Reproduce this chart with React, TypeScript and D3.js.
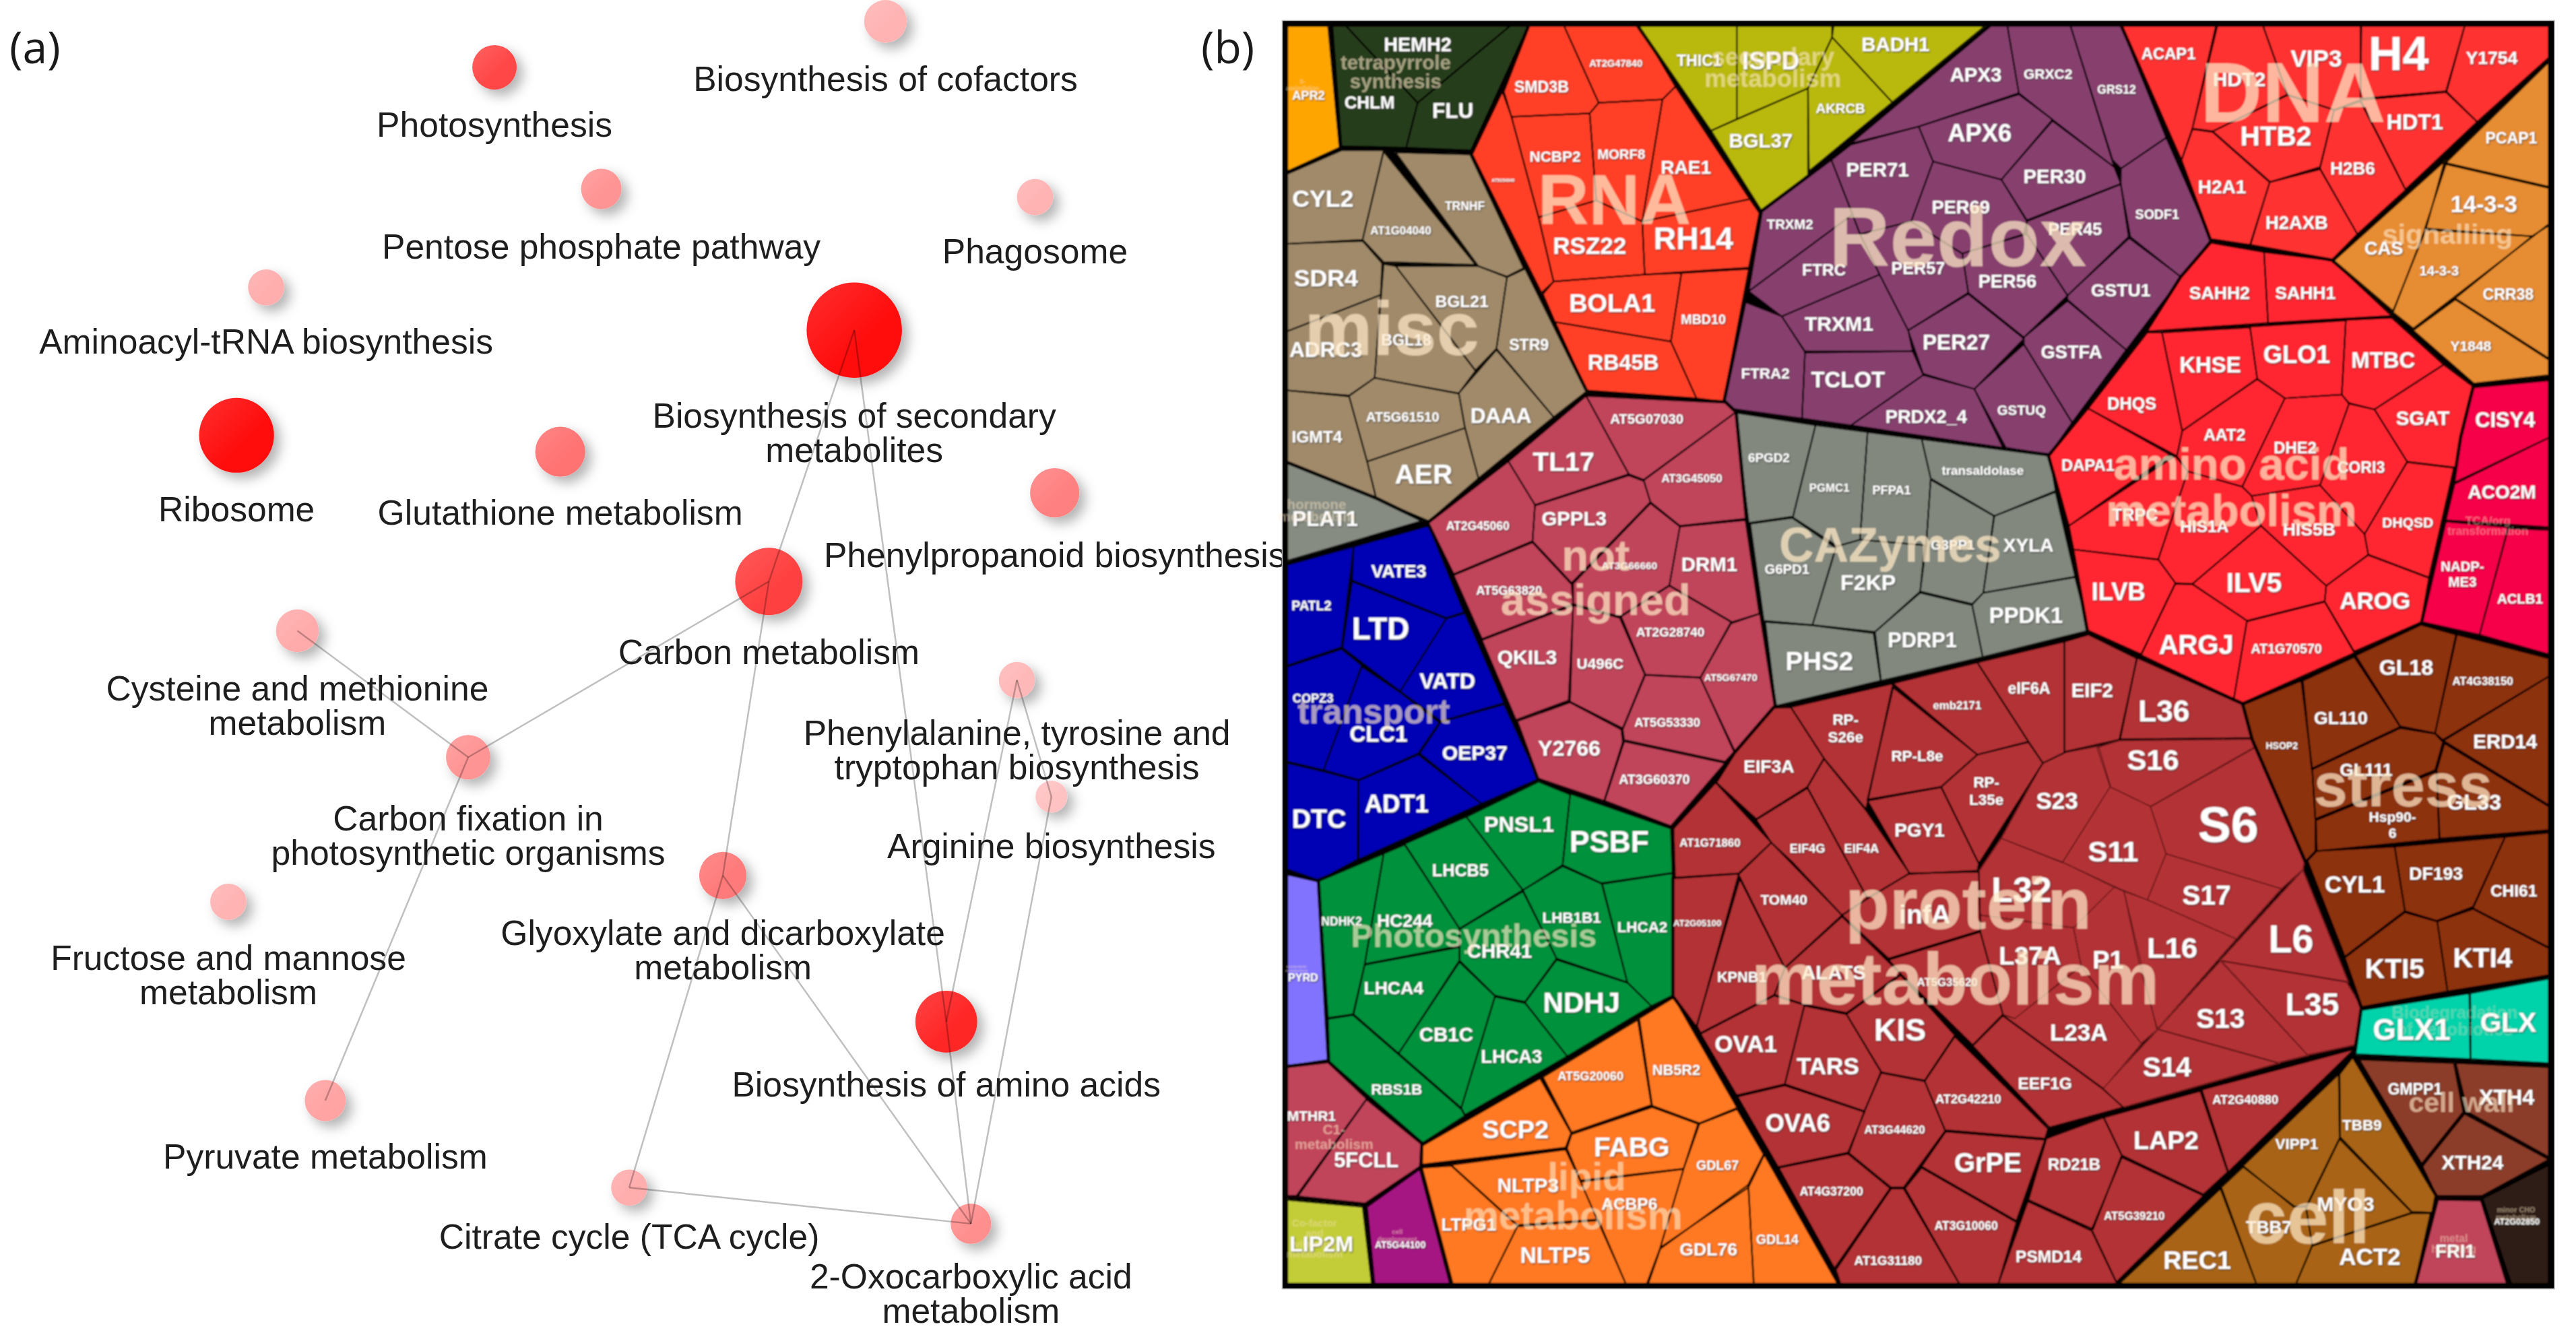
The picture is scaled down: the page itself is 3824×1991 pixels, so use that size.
import * as d3 from "d3";

// ---------- panel (a): enrichment network ----------
const nodeNames = [
  "Biosynthesis of cofactors", "Photosynthesis", "Pentose phosphate pathway", "Phagosome",
  "Aminoacyl-tRNA biosynthesis", "Biosynthesis of secondary\nmetabolites", "Ribosome", "Glutathione metabolism",
  "Phenylpropanoid biosynthesis", "Carbon metabolism", "Cysteine and methionine\nmetabolism", "Carbon fixation in\nphotosynthetic organisms",
  "Phenylalanine, tyrosine and\ntryptophan biosynthesis", "Arginine biosynthesis", "Glyoxylate and dicarboxylate\nmetabolism", "Fructose and mannose\nmetabolism",
  "Biosynthesis of amino acids", "Pyruvate metabolism", "Citrate cycle (TCA cycle)", "2-Oxocarboxylic acid\nmetabolism",
];
const nodeX = [539, 301, 366, 630, 162, 520, 144, 341, 642, 468, 181, 285, 619, 640, 440, 139, 576, 198, 383, 591];
const nodeY = [13, 41, 115, 120, 175, 201, 265, 275, 300, 354, 384, 461, 414, 485, 533, 549, 622, 670, 723, 745];
const nodeRadius = [13, 13.5, 12.3, 11, 11, 29, 22.8, 15.2, 15, 20.5, 13, 13.5, 11, 9.7, 14.4, 11, 18.8, 12.5, 11, 12.3];
const nodeEnrichment = [0.3, 0.72, 0.42, 0.3, 0.32, 0.97, 0.94, 0.55, 0.5, 0.75, 0.33, 0.42, 0.28, 0.24, 0.52, 0.3, 0.85, 0.36, 0.32, 0.44];
const nodeLabelY = [48, 76, 150, 153, 208, 253, 310, 312, 338, 397, 419, 498, 446, 515, 568, 583, 660, 704, 753, 777];
const nodeEdges = [
  [5, 9], [5, 16], [9, 11], [9, 14], [14, 18], [14, 19], [18, 19], [16, 19],
  [12, 16], [12, 13], [13, 19], [10, 11], [11, 17],
];

// ---------- panel (b): voronoi treemap, cells as [name, value, tile, labelX, labelY, outline] ----------
type Cell = [string, number, number, number, number, number[]];

const sulfurCells: Cell[] = [["APR2", 2.6, 0, 95, 295, [25, 45, 160, 45, 198, 480, 25, 565]]];
const tetrapyrroleCells: Cell[] = [
  ["HEMH2", 4.1, 0, 458, 110, [220, 45, 765, 45, 458, 320]],
  ["CHLM", 3.7, 0, 298, 318, [175, 45, 220, 45, 458, 320, 420, 480, 205, 475]],
  ["FLU", 4.5, 0, 575, 348, [765, 45, 825, 45, 635, 490, 420, 480, 458, 320]],
];
const rnaCells: Cell[] = [
  ["AT5G54940", 0.9, 0, 742, 598, [740, 280, 770, 370, 860, 730, 910, 960, 870, 1000, 640, 505]],
  ["SMD3B", 3.3, 0, 870, 262, [745, 280, 830, 45, 945, 45, 1060, 320, 1030, 358, 770, 370]],
  ["AT2G47840", 2.1, 0, 1117, 178, [945, 45, 1195, 45, 1315, 262, 1272, 308, 1060, 320]],
  ["NCBP2", 3.2, 0, 915, 512, [770, 370, 1030, 358, 1052, 670, 860, 730]],
  ["MORF8", 2.9, 0, 1135, 505, [1030, 358, 1060, 320, 1272, 308, 1205, 745, 1052, 670]],
  ["RAE1", 4, 0, 1350, 552, [1272, 308, 1315, 262, 1562, 665, 1205, 745]],
  ["RSZ22", 5, 0, 1030, 830, [860, 730, 1052, 670, 1205, 745, 1213, 935, 910, 960]],
  ["RH14", 6.6, 0, 1375, 805, [1205, 745, 1562, 665, 1594, 715, 1559, 910, 1213, 935]],
  ["BOLA1", 5.4, 0, 1105, 1037, [875, 1005, 910, 960, 1213, 935, 1335, 930, 1300, 1175, 915, 1105]],
  ["MBD10", 2.8, 0, 1408, 1095, [1335, 930, 1559, 915, 1475, 1390, 1385, 1378, 1300, 1175]],
  ["RB45B", 4.6, 0, 1142, 1250, [915, 1105, 1300, 1175, 1385, 1378, 1020, 1350]],
];
const miscCells: Cell[] = [
  ["CYL2", 5.1, 0, 143, 663, [25, 575, 205, 490, 345, 490, 275, 810, 25, 825]],
  ["AT1G04040", 2.4, 0, 402, 778, [345, 495, 650, 900, 345, 890, 275, 810]],
  ["TRNHF", 2.5, 0, 615, 690, [385, 498, 632, 505, 810, 912, 755, 942, 660, 905]],
  ["SDR4", 5.1, 0, 153, 948, [25, 825, 275, 815, 340, 895, 335, 1008, 25, 1138]],
  ["ADRC3", 4.5, 0, 153, 1203, [25, 1138, 335, 1008, 315, 1305, 230, 1368, 25, 1350]],
  ["BGL18", 3.3, 0, 420, 1170, [345, 898, 385, 905, 650, 1280, 595, 1360, 315, 1305]],
  ["BGL21", 3.5, 0, 605, 1032, [385, 905, 660, 905, 755, 945, 720, 1200, 650, 1278]],
  ["STR9", 3.3, 0, 828, 1187, [755, 945, 815, 915, 1018, 1355, 910, 1445, 720, 1200]],
  ["DAAA", 4.5, 0, 735, 1440, [720, 1205, 910, 1445, 660, 1665, 615, 1480, 595, 1360]],
  ["AT5G61510", 2.9, 0, 408, 1445, [230, 1370, 315, 1305, 595, 1362, 615, 1485, 290, 1605]],
  ["IGMT4", 3.5, 0, 123, 1515, [25, 1350, 230, 1372, 290, 1605, 320, 1735, 25, 1610]],
  ["AER", 5.8, 3, 478, 130, [290, 85, 615, -35, 660, 145, 495, 298, 320, 218]],
];
const hormoneCells: Cell[] = [["PLAT1", 4.5, 3, 150, 290, [25, 92, 320, 220, 470, 298, 25, 440]]];
const secondaryCells: Cell[] = [
  ["THIC1", 3.3, 1, 50, 170, [-150, 45, 175, 45, 175, 378, 90, 420]],
  ["ISPD", 5.2, 1, 288, 170, [175, 45, 492, 45, 492, 85, 412, 268, 175, 378]],
  ["BADH1", 4.2, 1, 703, 110, [497, 45, 1000, 45, 692, 318, 492, 85]],
  ["AKRCB", 2.9, 1, 520, 340, [492, 85, 692, 318, 415, 565, 412, 268]],
  ["BGL37", 4.2, 1, 255, 455, [90, 420, 412, 268, 412, 578, 260, 710]],
];
const redoxCells: Cell[] = [
  ["APX3", 4.2, 1, 970, 218, [1020, 45, 1075, 45, 1113, 285, 780, 405, 555, 465]],
  ["GRXC2", 3, 1, 1210, 217, [1075, 45, 1285, 45, 1430, 550, 1225, 380, 1113, 285]],
  ["GRS12", 2.5, 1, 1438, 272, [1285, 45, 1453, 45, 1603, 445, 1453, 555, 1425, 525]],
  ["APX6", 5.2, 1, 983, 428, [780, 405, 1113, 290, 1225, 380, 1055, 595, 828, 530]],
  ["PER71", 4.2, 1, 643, 558, [490, 525, 555, 470, 780, 405, 828, 530, 755, 745, 585, 790]],
  ["TRXM2", 2.9, 1, 352, 755, [260, 710, 490, 525, 560, 720, 215, 995]],
  ["FTRC", 3.5, 1, 465, 918, [215, 995, 560, 720, 585, 790, 650, 935, 325, 1085]],
  ["PER69", 3.9, 1, 920, 693, [828, 530, 1055, 595, 1140, 745, 1130, 790, 925, 860, 755, 745]],
  ["PER30", 4.2, 1, 1232, 583, [1225, 385, 1430, 550, 1452, 610, 1140, 740, 1055, 595]],
  ["PER45", 3.6, 1, 1300, 772, [1140, 745, 1452, 612, 1478, 800, 1275, 1010, 1140, 790]],
  ["PER57", 3.6, 1, 778, 912, [585, 790, 755, 745, 925, 860, 945, 1000, 745, 1135, 650, 935]],
  ["PER56", 3.9, 1, 1075, 960, [925, 860, 1140, 790, 1275, 1010, 1130, 1160, 945, 1000]],
  ["SODF1", 2.8, 1, 1573, 720, [1453, 555, 1603, 445, 1752, 810, 1654, 945, 1484, 800, 1452, 610]],
  ["GSTU1", 3.8, 1, 1452, 992, [1275, 1010, 1480, 805, 1654, 945, 1470, 1205, 1275, 1025]],
  ["GSTFA", 3.9, 1, 1288, 1212, [1275, 1030, 1470, 1205, 1290, 1465, 1130, 1185, 1130, 1160]],
  ["GSTUQ", 2.9, 1, 1122, 1420, [965, 1345, 1130, 1185, 1290, 1465, 1215, 1580, 1070, 1555]],
  ["TRXM1", 4.3, 1, 515, 1112, [325, 1085, 650, 935, 745, 1135, 760, 1210, 400, 1210]],
  ["PER27", 4.5, 1, 905, 1178, [745, 1135, 945, 1005, 1130, 1165, 965, 1345, 795, 1290]],
  ["FTRA2", 3.2, 1, 270, 1290, [205, 1035, 325, 1085, 402, 1210, 392, 1450, 155, 1415, 135, 1395]],
  ["TCLOT", 4.7, 1, 545, 1310, [402, 1215, 760, 1210, 795, 1295, 555, 1475, 392, 1450]],
  ["PRDX2_4", 3.9, 1, 805, 1443, [555, 1475, 795, 1295, 965, 1345, 1060, 1555]],
];
const cazymeCells: Cell[] = [
  ["6PGD2", 2.7, 4, 282, 72, [170, -90, 437, -45, 362, 282, 215, 305]],
  ["PGMC1", 2.4, 4, 483, 180, [437, -45, 610, -20, 585, 365, 510, 388, 362, 285]],
  ["PFPA1", 2.6, 4, 690, 188, [610, -20, 790, 5, 820, 145, 805, 385, 585, 365]],
  ["transaldolase", 2.7, 4, 993, 117, [790, 5, 1215, 65, 1235, 190, 1032, 280, 820, 145]],
  ["XYLA", 4, 4, 1145, 385, [1032, 280, 1235, 195, 1300, 497, 995, 555]],
  ["G3PP1", 2.9, 4, 893, 383, [820, 150, 1030, 280, 995, 555, 958, 595, 785, 550, 805, 385]],
  ["G6PD1", 2.9, 4, 342, 470, [220, 308, 360, 287, 505, 395, 427, 670, 265, 655]],
  ["F2KP", 4.6, 4, 612, 518, [505, 390, 585, 365, 800, 385, 785, 550, 635, 695, 427, 670]],
  ["PDRP1", 4.4, 4, 792, 725, [635, 695, 785, 555, 958, 600, 993, 785, 655, 870]],
  ["PPDK1", 4.7, 4, 1137, 635, [958, 598, 995, 555, 1300, 500, 1345, 690, 993, 785]],
  ["PHS2", 5.5, 4, 450, 800, [270, 660, 427, 672, 630, 700, 653, 870, 305, 960]],
];
const aminoAcidCells: Cell[] = [
  ["SAHH2", 3.8, 2, 422, 1002, [395, 822, 565, 855, 578, 1108, 190, 1138, 300, 945]],
  ["SAHH1", 3.8, 2, 698, 1000, [565, 855, 785, 885, 975, 1083, 578, 1108]],
  ["DHQS", 3.6, 2, 140, 1397, [190, 1143, 237, 1143, 302, 1495, 285, 1585, 0, 1415]],
  ["KHSE", 4.7, 2, 392, 1258, [237, 1143, 520, 1125, 543, 1308, 302, 1495]],
  ["GLO1", 5.2, 2, 670, 1222, [520, 1122, 828, 1100, 815, 1365, 632, 1378, 543, 1308]],
  ["MTBC", 4.7, 2, 948, 1240, [828, 1098, 975, 1090, 1142, 1258, 920, 1418, 838, 1395, 815, 1365]],
  ["AAT2", 3.5, 2, 438, 1508, [302, 1495, 543, 1310, 632, 1378, 495, 1695, 320, 1640, 285, 1585]],
  ["DHE2", 3.4, 2, 665, 1555, [632, 1378, 815, 1365, 838, 1398, 745, 1690, 525, 1728, 495, 1695]],
  ["CORI3", 3.3, 2, 877, 1625, [838, 1398, 920, 1418, 1025, 1605, 888, 1865, 745, 1690]],
  ["SGAT", 4.2, 2, 1075, 1448, [920, 1418, 1142, 1258, 1235, 1335, 1195, 1628, 1025, 1605]],
  ["DHQSD", 3, 5, 1027, 303, [1025, 88, 1175, 108, 1095, 500, 900, 418, 888, 345]],
  ["DAPA1", 3.4, 4, 1343, 97, [1344, -105, 1615, 60, 1280, 315, 1215, 65]],
  ["TRPC", 3.6, 5, 150, 275, [-62, 315, 280, 65, 320, 120, 225, 435, -47, 400]],
  ["HIS1A", 3.5, 5, 373, 318, [320, 120, 495, 175, 525, 208, 555, 315, 335, 523, 280, 520, 225, 435]],
  ["HIS5B", 3.8, 5, 710, 328, [525, 208, 745, 170, 888, 345, 900, 418, 765, 530, 555, 315]],
  ["ILVB", 5.2, 5, 97, 552, [-47, 400, 225, 437, 280, 520, 170, 775, 0, 690]],
  ["ILV5", 5.8, 5, 533, 518, [335, 523, 555, 315, 765, 530, 760, 585, 510, 655]],
  ["AROG", 5, 5, 922, 583, [765, 530, 900, 420, 1095, 502, 1070, 660, 855, 765, 760, 585]],
  ["ARGJ", 5.7, 5, 347, 740, [280, 523, 335, 525, 510, 655, 468, 935, 170, 778]],
  ["AT1G70570", 2.8, 5, 637, 755, [510, 658, 760, 588, 855, 770, 495, 950, 468, 935]],
];
const tcaCells: Cell[] = [
  ["CISY4", 4.4, 5, 1340, -65, [1240, -180, 1480, -205, 1480, 0, 1178, 160, 1200, 0]],
  ["ACO2M", 4, 5, 1330, 195, [1178, 165, 1480, 0, 1480, 320, 1150, 295]],
  ["NADP-\nME3", 2.9, 5, 1203, 488, [1150, 300, 1350, 320, 1258, 705, 1075, 660]],
  ["ACLB1", 2.9, 5, 1388, 577, [1350, 325, 1480, 330, 1480, 775, 1258, 705]],
];
const signallingCells: Cell[] = [
  ["PCAP1", 3.3, 2, 1360, 447, [1480, 175, 1480, 620, 1150, 535]],
  ["14-3-3", 4.9, 2, 1272, 683, [1150, 540, 1480, 625, 1480, 755, 1430, 798, 1082, 770]],
  ["CAS", 3.9, 2, 950, 840, [1145, 530, 1085, 775, 980, 1065, 790, 885]],
  ["14-3-3", 2.9, 2, 1128, 922, [1082, 775, 1430, 798, 1045, 1128, 980, 1070]],
  ["CRR38", 3.3, 2, 1350, 1007, [1430, 795, 1480, 760, 1480, 1235, 1180, 1020]],
  ["Y1848", 3, 2, 1230, 1190, [1180, 1025, 1480, 1240, 1480, 1295, 1240, 1325, 1045, 1135]],
];
const dnaCells: Cell[] = [
  ["ACAP1", 3.4, 2, 258, 143, [110, 45, 410, 45, 335, 410, 300, 525]],
  ["HDT2", 4.3, 2, 485, 235, [415, 45, 562, 45, 640, 290, 400, 422, 335, 412]],
  ["VIP3", 5, 2, 733, 160, [562, 45, 875, 45, 875, 310, 790, 345, 640, 290]],
  ["H4", 10, 2, 998, 145, [878, 45, 1210, 45, 1150, 278, 875, 305]],
  ["Y1754", 3.8, 2, 1297, 160, [1210, 45, 1480, 45, 1480, 158, 1250, 388, 1152, 280]],
  ["HDT1", 4.6, 2, 1050, 388, [875, 310, 1150, 282, 1250, 388, 1020, 630]],
  ["HTB2", 5.8, 2, 603, 440, [400, 422, 640, 293, 790, 345, 745, 550, 585, 603]],
  ["H2B6", 3.7, 2, 850, 555, [790, 348, 875, 315, 1020, 632, 865, 790, 745, 555]],
  ["H2A1", 4, 2, 430, 620, [300, 525, 335, 415, 400, 425, 583, 605, 520, 828, 395, 808]],
  ["H2AXB", 3.9, 2, 670, 748, [583, 605, 745, 558, 865, 790, 785, 880, 522, 828]],
];
const transportCells: Cell[] = [
  ["PATL2", 2.8, 3, 105, 600, [25, 455, 245, 390, 205, 750, 25, 815]],
  ["VATE3", 3.8, 3, 395, 478, [245, 390, 495, 315, 612, 625, 553, 645, 240, 510]],
  ["LTD", 6.5, 3, 335, 685, [240, 515, 553, 648, 400, 908, 208, 752]],
  ["VATD", 4.6, 3, 557, 872, [553, 648, 615, 628, 745, 950, 535, 1015, 400, 908]],
  ["COPZ3", 2.6, 3, 110, 933, [25, 820, 205, 757, 272, 815, 145, 1190, 25, 1160]],
  ["CLC1", 4.7, 3, 328, 1060, [272, 820, 400, 912, 530, 1020, 460, 1130, 262, 1225, 145, 1190]],
  ["OEP37", 4.3, 3, 648, 1127, [535, 1018, 745, 955, 860, 1222, 670, 1310, 465, 1130]],
  ["DTC", 5.6, 3, 130, 1365, [25, 1165, 145, 1195, 260, 1228, 258, 1510, 130, 1585, 25, 1545]],
  ["ADT1", 5.2, 3, 388, 1310, [262, 1228, 460, 1135, 670, 1310, 262, 1510]],
];
const notAssignedCells: Cell[] = [
  ["AT5G07030", 2.9, 3, 1220, -68, [1018, -150, 1480, -125, 1514, -90, 1210, 150, 1160, 130]],
  ["TL17", 5.6, 3, 943, 85, [1018, -150, 1160, 130, 848, 240, 760, 85]],
  ["AT2G45060", 2.5, 3, 658, 315, [760, 85, 848, 240, 840, 370, 578, 488, 495, 305]],
  ["GPPL3", 4.2, 3, 978, 288, [848, 243, 1160, 135, 1210, 155, 1232, 230, 970, 520, 840, 370]],
  ["AT3G45050", 2.4, 3, 1370, 145, [1210, 152, 1514, -90, 1548, 290, 1330, 315, 1232, 230]],
  ["AT5G63820", 2.6, 3, 762, 547, [578, 492, 840, 375, 970, 525, 975, 595, 672, 720]],
  ["AT3G66660", 2.2, 3, 1162, 458, [975, 522, 1232, 235, 1330, 318, 1295, 528, 1130, 640, 975, 595]],
  ["DRM1", 4.2, 3, 1428, 452, [1330, 318, 1548, 295, 1594, 630, 1504, 660, 1295, 528]],
  ["AT2G28740", 2.7, 3, 1298, 697, [1295, 530, 1500, 660, 1398, 858, 1215, 848, 1135, 640]],
  ["QKIL3", 4.3, 3, 822, 785, [672, 725, 975, 600, 960, 940, 785, 1010]],
  ["U496C", 3.2, 3, 1065, 810, [975, 600, 1130, 645, 1213, 848, 1140, 1040, 965, 945]],
  ["AT5G67470", 2.1, 3, 1499, 858, [1500, 665, 1596, 630, 1644, 960, 1514, 1125, 1398, 860]],
  ["AT5G53330", 2.6, 3, 1288, 1020, [1215, 850, 1398, 860, 1510, 1125, 1480, 1160, 1145, 1082, 1140, 1045]],
  ["Y2766", 4.6, 3, 962, 1113, [790, 1015, 965, 948, 1135, 1045, 1140, 1090, 1078, 1300, 860, 1220]],
  ["AT3G60370", 2.8, 3, 1245, 1222, [1145, 1088, 1480, 1165, 1300, 1390, 1080, 1300]],
];
const photosynthesisCells: Cell[] = [
  ["PSBF", 6.3, 3, 1095, 1447, [965, 1275, 1300, 1400, 1305, 1558, 1070, 1595, 940, 1530]],
  ["PNSL1", 4.6, 3, 795, 1385, [620, 1358, 860, 1232, 965, 1278, 940, 1530, 808, 1620]],
  ["LHCB5", 3.6, 6, 600, 28, [415, -65, 620, -162, 808, 100, 597, 238]],
  ["HC244", 3.8, 6, 415, 210, [345, -30, 415, -62, 597, 238, 597, 300, 282, 365]],
  ["NDHK2", 2.5, 6, 205, 212, [130, 68, 345, -30, 282, 365, 243, 545, 160, 558]],
  ["LHCA4", 3.8, 6, 378, 450, [282, 368, 597, 305, 597, 352, 395, 685, 245, 545]],
  ["CHR41", 4.2, 6, 730, 317, [597, 240, 808, 105, 920, 345, 815, 500, 715, 478, 597, 352]],
  ["LHB1B1", 3.2, 6, 970, 198, [808, 100, 940, 15, 1070, 78, 1155, 430, 920, 345]],
  ["LHCA2", 3.2, 6, 1205, 233, [1072, 78, 1305, 40, 1310, 475, 1235, 515, 1155, 430]],
  ["NDHJ", 6, 6, 1003, 503, [815, 503, 920, 350, 1155, 432, 1235, 515, 955, 695]],
  ["CB1C", 4.2, 6, 553, 617, [395, 685, 597, 358, 715, 480, 603, 880]],
  ["LHCA3", 3.9, 6, 770, 697, [715, 482, 815, 505, 955, 695, 860, 755, 615, 905, 603, 880]],
  ["RBS1B", 3.2, 6, 388, 813, [160, 562, 243, 548, 395, 690, 603, 885, 615, 908, 475, 1005, 165, 715]],
];
const nucleotideCells: Cell[] = [["PYRD", 2.3, 6, 77, 412, [25, 45, 125, 70, 158, 708, 25, 730]]];
const c1Cells: Cell[] = [
  ["MTHR1", 3, 6, 105, 908, [25, 735, 160, 718, 288, 848, 55, 1195, 25, 1195]],
  ["5FCLL", 4.4, 6, 287, 1067, [288, 850, 470, 1010, 465, 1090, 283, 1222, 60, 1197]],
];
const cofactorCells: Cell[] = [["LIP2M", 4.6, 6, 138, 1368, [25, 1210, 275, 1235, 305, 1510, 25, 1510]]];
const developmentCells: Cell[] = [["AT5G44100", 2, 6, 400, 1370, [290, 1235, 465, 1100, 565, 1510, 315, 1510]]];
const lipidCells: Cell[] = [
  ["SCP2", 5.4, 6, 783, 958, [475, 1015, 865, 775, 968, 970, 950, 1022, 473, 1083]],
  ["AT5G20060", 2.6, 6, 1033, 768, [875, 770, 1190, 565, 1235, 870, 970, 968]],
  ["NB5R2", 3.1, 6, 1318, 745, [1195, 560, 1310, 485, 1520, 880, 1395, 935, 1238, 872]],
  ["FABG", 5.8, 6, 1170, 1020, [955, 1025, 970, 975, 1238, 878, 1390, 938, 1342, 1098, 1000, 1140]],
  ["GDL67", 2.8, 6, 1455, 1085, [1395, 938, 1520, 885, 1610, 1050, 1558, 1165, 1265, 1380, 1342, 1100]],
  ["ACBP6", 3.5, 6, 1162, 1225, [1000, 1145, 1342, 1100, 1265, 1380, 1220, 1510, 1150, 1510, 1055, 1280]],
  ["NLTP3", 4.2, 6, 825, 1157, [570, 1085, 950, 1030, 1000, 1145, 1055, 1280, 790, 1300]],
  ["LTPG1", 3.7, 6, 628, 1298, [473, 1095, 570, 1088, 790, 1303, 695, 1510, 575, 1510]],
  ["NLTP5", 4.8, 6, 915, 1408, [790, 1305, 1060, 1283, 1150, 1510, 695, 1510]],
  ["GDL76", 3.8, 6, 1425, 1388, [1265, 1385, 1558, 1155, 1575, 1510, 1225, 1510]],
  ["GDL14", 2.8, 7, 310, 1352, [213, 1155, 265, 1045, 510, 1510, 232, 1510]],
];
const proteinCells: Cell[] = [
  ["S23", 5, 4, 1240, 1300, [1193, 1165, 1265, 1128, 1378, 1105, 1418, 1248, 1258, 1522, 1055, 1435]],
  ["S11", 6.2, 5, 80, 1480, [70, 1250, 200, 1320, 250, 1490, 190, 1655, 100, 1615, -83, 1520]],
  ["S16", 6.2, 5, 208, 1152, [28, 1110, 100, 1085, 530, 1080, 538, 1105, 200, 1320, 70, 1250]],
  ["S6", 10.5, 5, 450, 1387, [200, 1322, 540, 1108, 695, 1510, 690, 1545, 620, 1615, 250, 1490]],
  ["S17", 5.8, 8, 380, 117, [250, -30, 620, 95, 475, 275, 190, 135]],
  ["L16", 6.2, 8, 270, 307, [115, 105, 190, 135, 475, 275, 222, 597, 165, 370]],
  ["L6", 8.2, 8, 652, 275, [690, 30, 835, 428, 425, 352]],
  ["S13", 5.8, 8, 425, 560, [425, 355, 705, 692, 610, 718, 225, 598]],
  ["L35", 6.6, 8, 720, 510, [430, 355, 830, 430, 878, 520, 855, 655, 705, 690]],
  ["S14", 5.8, 8, 253, 733, [225, 600, 610, 720, 110, 878, 48, 810]],
  ["L32", 7.4, 7, 1122, 100, [980, 35, 1055, -85, 1258, 0, 1430, 90, 1295, 235, 985, 190]],
  ["L37A", 5.4, 7, 1150, 335, [985, 190, 1295, 235, 1320, 370, 1100, 560, 1060, 545, 985, 245]],
  ["P1", 5.4, 7, 1410, 350, [1295, 235, 1430, 90, 1463, 105, 1572, 600, 1520, 648, 1320, 370]],
  ["L23A", 5, 7, 1312, 608, [1320, 375, 1520, 650, 1395, 810, 1065, 550, 1100, 560]],
  ["EIF3A", 3.8, 4, 282, 1178, [170, 1130, 300, 968, 355, 965, 465, 1148, 410, 1250, 240, 1365, 108, 1235]],
  ["RP-\nS26e", 3.2, 4, 537, 1040, [355, 965, 695, 880, 605, 1330, 465, 1148]],
  ["emb2171", 2.4, 4, 908, 960, [695, 880, 975, 805, 1145, 1088, 975, 1135]],
  ["eIF6A", 3.3, 4, 1147, 897, [975, 805, 1265, 730, 1265, 1128, 1193, 1165, 1145, 1088]],
  ["EIF2", 4.2, 4, 1357, 903, [1265, 730, 1345, 705, 1505, 790, 1450, 1080, 1265, 1125]],
  ["L36", 6.3, 5, 243, 978, [157, 788, 495, 955, 530, 1075, 100, 1080]],
  ["RP-L8e", 3.2, 4, 775, 1140, [695, 895, 975, 1135, 855, 1250, 610, 1295]],
  ["RP-\nL35e", 3.2, 4, 1005, 1265, [975, 1135, 1145, 1090, 1193, 1165, 980, 1525, 855, 1250]],
  ["PGY1", 4, 4, 783, 1405, [610, 1300, 855, 1252, 980, 1525, 975, 1550, 750, 1562]],
  ["EIF4G", 2.6, 4, 410, 1472, [240, 1368, 410, 1255, 610, 1650, 525, 1710, 360, 1520, 290, 1450]],
  ["EIF4A", 2.6, 4, 590, 1472, [410, 1252, 465, 1150, 605, 1335, 750, 1560, 610, 1650]],
  ["AT1G71860", 2.4, 4, 86, 1450, [105, 1235, 290, 1450, 185, 1560, -30, 1575, -35, 1400]],
  ["infA", 5.6, 7, 800, 188, [610, 130, 750, 40, 980, 35, 985, 245, 680, 345, 525, 190]],
  ["TOM40", 3, 7, 332, 135, [180, 42, 290, -70, 525, 190, 335, 378]],
  ["KPNB1", 3.1, 7, 192, 412, [185, 60, 335, 380, 300, 475, 55, 612, 42, 585]],
  ["AT2G05100", 1.9, 7, 44, 218, [-34, 58, 182, 42, 42, 590, -34, 480]],
  ["ALATS", 4.2, 7, 497, 395, [335, 380, 525, 195, 720, 400, 540, 540, 400, 510, 300, 475]],
  ["AT5G35620", 2.4, 7, 875, 430, [680, 350, 985, 250, 1060, 545, 960, 655, 720, 400]],
  ["OVA1", 5, 7, 205, 650, [55, 615, 300, 478, 400, 512, 335, 795, 175, 835]],
  ["TARS", 5, 7, 478, 730, [400, 515, 540, 545, 655, 750, 600, 892, 335, 795]],
  ["KIS", 6.6, 7, 718, 600, [540, 545, 720, 405, 900, 620, 800, 782, 655, 752]],
  ["AT2G42210", 2.6, 7, 945, 848, [800, 785, 900, 625, 1210, 955, 1200, 990, 868, 960]],
  ["EEF1G", 3.5, 7, 1200, 793, [960, 658, 1060, 550, 1390, 810, 1460, 878, 1215, 950]],
  ["OVA6", 5.2, 7, 378, 935, [178, 840, 335, 800, 600, 895, 545, 1040, 313, 1092]],
  ["AT3G44620", 2.4, 7, 700, 958, [655, 755, 800, 785, 868, 962, 730, 1165, 688, 1165, 548, 1042, 600, 890]],
  ["GrPE", 5.7, 7, 1010, 1077, [870, 965, 1200, 995, 1105, 1285, 790, 1090]],
  ["AT4G37200", 2.5, 7, 490, 1180, [315, 1095, 545, 1045, 685, 1168, 500, 1455]],
  ["AT1G31180", 2.7, 7, 678, 1427, [688, 1170, 730, 1170, 915, 1510, 520, 1510, 505, 1460]],
  ["AT3G10060", 2.5, 7, 938, 1302, [735, 1168, 790, 1095, 1105, 1290, 1045, 1510, 915, 1510]],
  ["RD21B", 3.4, 7, 1297, 1082, [1205, 990, 1395, 915, 1455, 1050, 1360, 1315, 1145, 1210]],
  ["PSMD14", 3.5, 7, 1212, 1412, [1143, 1215, 1358, 1322, 1440, 1510, 1045, 1510]],
  ["LAP2", 5.4, 8, 250, 997, [50, 915, 360, 820, 448, 1110, 370, 1190, 108, 1050]],
  ["AT2G40880", 2.6, 8, 505, 852, [365, 815, 855, 670, 450, 1110]],
  ["AT5G39210", 2.4, 8, 148, 1268, [108, 1058, 370, 1195, 90, 1505, 10, 1318]],
];
const stressCells: Cell[] = [
  ["HSOP2", 2, 5, 622, 1102, [500, 955, 685, 870, 720, 1185, 730, 1365, 730, 1480, 700, 1515, 530, 1080]],
  ["GL110", 3.8, 5, 812, 1003, [690, 870, 855, 785, 1003, 1035, 718, 1185]],
  ["GL18", 4.6, 5, 1022, 823, [860, 780, 1070, 670, 1182, 705, 1115, 1058, 1003, 1033]],
  ["AT4G38150", 2.4, 5, 1268, 871, [1185, 705, 1480, 790, 1480, 855, 1140, 1082, 1115, 1058]],
  ["ERD14", 4.2, 5, 1340, 1087, [1142, 1085, 1480, 855, 1480, 1315]],
  ["GL111", 3.8, 5, 893, 1190, [720, 1188, 1003, 1040, 1115, 1060, 1140, 1090, 1115, 1190, 730, 1365]],
  ["GL33", 4.6, 5, 1240, 1305, [1120, 1192, 1145, 1095, 1480, 1320, 1480, 1405, 1130, 1435]],
  ["Hsp90-\n6", 3, 5, 978, 1385, [732, 1370, 1120, 1195, 1128, 1437, 735, 1480]],
  ["CYL1", 5, 8, 857, 78, [705, -5, 735, -40, 985, -55, 1018, 175, 825, 338]],
  ["DF193", 3.8, 8, 1118, 40, [985, -55, 1340, -90, 1237, 160, 1120, 210, 1018, 175]],
  ["CHI61", 3.5, 8, 1368, 103, [1340, -90, 1480, -105, 1480, 305, 1237, 165]],
  ["KTI5", 5.8, 8, 985, 380, [825, 342, 1018, 180, 1122, 213, 1155, 463, 880, 518]],
  ["KTI4", 5.8, 8, 1268, 342, [1122, 213, 1237, 168, 1480, 308, 1480, 405, 1155, 463]],
];
const biodegradationCells: Cell[] = [
  ["GLX1", 6.3, 8, 1040, 600, [880, 530, 1225, 470, 1228, 705, 860, 688]],
  ["GLX", 5.8, 8, 1350, 575, [1228, 470, 1480, 418, 1480, 720, 1230, 705]],
];
const cellWallCells: Cell[] = [
  ["GMPP1", 3.3, 8, 1050, 813, [872, 708, 1175, 720, 1205, 895, 1072, 1080]],
  ["XTH4", 4.6, 8, 1345, 843, [1182, 720, 1480, 735, 1480, 1055, 1220, 895]],
  ["XTH24", 4.2, 8, 1235, 1075, [1210, 902, 1480, 1065, 1265, 1195, 1120, 1195, 1075, 1090]],
];
const cellCells: Cell[] = [
  ["VIPP1", 3.2, 8, 670, 1010, [498, 1088, 805, 760, 808, 988, 702, 1230, 660, 1235]],
  ["TBB9", 3.2, 8, 880, 942, [808, 760, 850, 700, 1115, 1195, 1105, 1255, 1040, 1252, 810, 985]],
  ["MYO3", 4.3, 8, 827, 1225, [808, 992, 1040, 1255, 720, 1372, 700, 1240]],
  ["TBB7", 3.7, 8, 580, 1308, [428, 1165, 498, 1092, 665, 1235, 700, 1235, 720, 1372, 668, 1510, 540, 1510]],
  ["ACT2", 5, 8, 905, 1412, [720, 1375, 1040, 1258, 1100, 1258, 1050, 1510, 668, 1510]],
  ["REC1", 5.4, 8, 350, 1425, [100, 1510, 425, 1170, 540, 1510]],
];
const metalCells: Cell[] = [["FRI1", 3.9, 8, 1180, 1392, [1125, 1210, 1262, 1212, 1345, 1510, 1055, 1510]]];
const minorChoCells: Cell[] = [["AT2G02850", 1.8, 8, 1378, 1288, [1268, 1205, 1480, 1085, 1480, 1510, 1360, 1510]]];

const ribosomalNames = ["S23", "S11", "S16", "S6", "S17", "L16", "L6", "S13", "L35", "S14", "L32", "L37A", "P1", "L23A"];

const groupCells = [
  sulfurCells, tetrapyrroleCells, rnaCells, miscCells, hormoneCells, secondaryCells, redoxCells, cazymeCells,
  aminoAcidCells, tcaCells, signallingCells, dnaCells, transportCells, notAssignedCells, photosynthesisCells,
  nucleotideCells, c1Cells, cofactorCells, developmentCells, lipidCells, proteinCells, stressCells,
  biodegradationCells, cellWallCells, cellCells, metalCells, minorChoCells,
];
const groupColors = [
  "#ffa500", "#283c1e", "#ff4128", "#a08a6a", "#878c82", "#b9b90f", "#87416e", "#82887e",
  "#ff2830", "#f5004a", "#e68c32", "#ff3232", "#0000b4", "#c0445a", "#00913c",
  "#8273ff", "#c0445a", "#c3cd37", "#a51482", "#ff7820", "#b23236", "#8c3010",
  "#00d2aa", "#8c3e2a", "#a86414", "#c0445a", "#2d1e14",
];

// group titles as [lines, tile, centreX, firstBaseline, lineStep, fontPx, opacity]
const groupTitles: [string[], number, number, number, number, number, number][] = [
  [["RNA"], 0, 1112, 755, 0, 105, 0.72],
  [["misc"], 0, 372, 1222, 0, 114, 0.72],
  [["tetrapyrrole", "synthesis"], 0, 385, 200, 68, 29.5, 0.58],
  [["S-", "assimilation"], 0, 75, 250, 25, 8.5, 0.5],
  [["Redox"], 1, 910, 905, 0, 125, 0.72],
  [["secondary", "metabolism"], 1, 295, 185, 77, 36.5, 0.58],
  [["DNA"], 2, 658, 388, 0, 127, 0.72],
  [["signalling"], 2, 1155, 825, 0, 41.5, 0.62],
  [["amino acid", "metabolism"], 5, 460, 150, 165, 67, 0.72],
  [["TCA/org", "transformation"], 5, 1285, 310, 38, 17, 0.4],
  [["not", "assigned"], 3, 1050, 475, 160, 65, 0.72],
  [["CAZymes"], 4, 685, 445, 0, 71.5, 0.74],
  [["hormone", "metabolism"], 3, 122, 255, 45, 20.5, 0.45],
  [["transport"], 3, 312, 1022, 0, 51.5, 0.66],
  [["Photosynthesis"], 6, 645, 303, 0, 49, 0.66],
  [["stress"], 5, 1012, 1320, 0, 90, 0.72],
  [["protein"], 7, 945, 240, 0, 108, 0.72],
  [["metabolism"], 7, 902, 508, 0, 109, 0.72],
  [["lipid"], 6, 1020, 1175, 0, 56.5, 0.62],
  [["metabolism"], 6, 975, 1315, 0, 58.5, 0.62],
  [["cell wall"], 8, 1200, 895, 0, 41, 0.62],
  [["cell"], 8, 705, 1365, 0, 111, 0.72],
  [["C1-", "metabolism"], 6, 180, 975, 53, 21, 0.55],
  [["Co-factor", "and", "vitamine", "metabolism"], 6, 115, 1305, 37, 15, 0.4],
  [["cell", "development"], 6, 390, 1332, 25, 9.5, 0.5],
  [["nucleotide", "metabolism"], 6, 55, 378, 15, 6, 0.5],
  [["Biodegradation", "of xenobiotics"], 8, 1178, 560, 60, 25.5, 0.3],
  [["metal", "handling"], 8, 1175, 1360, 40, 16, 0.45],
  [["minor CHO", "metabolism"], 8, 1375, 1255, 25, 10.8, 0.5],
];

// ---------- scales ----------
const width = 3824;
const height = 1991;
const netX = d3.scaleLinear().domain([0, 1568]).range([0, width]);
const netY = d3.scaleLinear().domain([0, 816.4]).range([0, height]);
const nodeColor = d3.scaleLinear<string>().domain([0, 1]).range(["#ffffff", "#ff0000"]);
const labelPx = d3.scaleLinear().domain([0, 10]).range([0, 70]);

// each tile is one measured window of the treemap, all in the same 0-1568 units
const tileXs = [
  d3.scaleLinear().domain([0, 1568]).range([1900, 2600]),
  d3.scaleLinear().domain([0, 1568]).range([2500, 3200]),
  d3.scaleLinear().domain([0, 1568]).range([3100, 3824]),
];
const tileYs = [
  d3.scaleLinear().domain([0, 1568]).range([20, 670]),
  d3.scaleLinear().domain([0, 1568]).range([650, 1300]),
  d3.scaleLinear().domain([0, 1568]).range([1280, 1930]),
];
const tx = (tile: number, v: number) => tileXs[tile % 3](v);
const ty = (tile: number, v: number) => tileYs[Math.floor(tile / 3)](v);

const cellPath = (cell: Cell) => {
  const pts: [number, number][] = [];
  const raw = cell[5];
  for (let i = 0; i < raw.length; i += 2) pts.push([tx(cell[2], raw[i]), ty(cell[2], raw[i + 1])]);
  return d3.line().curve(d3.curveLinearClosed)(pts) || "";
};

const NetworkPanel = () => {
  const line = d3.line();
  return (
    <g>
      {nodeNames.map((name, i) => (
        <g key={name}>
          <circle cx={netX(nodeX[i])} cy={netY(nodeY[i])} r={netX(nodeRadius[i])} fill={nodeColor(nodeEnrichment[i])} filter="url(#nodeShadow)" />
          <circle cx={netX(nodeX[i])} cy={netY(nodeY[i])} r={netX(nodeRadius[i])} fill="url(#nodeSheen)" />
        </g>
      ))}
      {nodeEdges.map(([a, b]) => (
        <path
          key={`${a}-${b}`}
          d={line([[netX(nodeX[a]), netY(nodeY[a])], [netX(nodeX[b]), netY(nodeY[b])]]) || ""}
          stroke="#000"
          strokeOpacity={0.25}
          strokeWidth={2.5}
          fill="none"
        />
      ))}
      {nodeNames.map((name, i) =>
        name.split("\n").map((row, j) => (
          <text
            key={row + i}
            x={netX(nodeX[i])}
            y={netY(nodeLabelY[i]) + j * 51}
            textAnchor="middle"
            dominantBaseline="central"
            fontFamily="'Liberation Sans', Arial, sans-serif"
            fontSize={51.6}
            fill="#1e1e1e"
          >
            {row}
          </text>
        ))
      )}
    </g>
  );
};

const TreemapPanel = () => (
  <g>
    <rect x={1903.5} y={30.5} width={1888.5} height={1883} fill="#000" stroke="#b4b4b4" strokeWidth={1.5} />
    <g filter="url(#soften)">
      {groupCells.map((cells, g) => {
        const ordered = [...cells].sort((a, b) => +ribosomalNames.includes(b[0]) - +ribosomalNames.includes(a[0]));
        return (
          <g key={g}>
            {ordered.map((c, i) => (
              <path key={`o${i}`} d={cellPath(c)} fill="#000" stroke="#000" strokeWidth={8} strokeLinejoin="round" />
            ))}
            {ordered.map((c, i) => (
              <path key={`f${i}`} d={cellPath(c)} fill={groupColors[g]} stroke={groupColors[g]} strokeWidth={2} />
            ))}
            {ordered.map((c, i) => (
              <path
                key={`s${i}`}
                d={cellPath(c)}
                fill="none"
                stroke={ribosomalNames.includes(c[0]) ? "#3c0a0a" : "#000"}
                strokeWidth={ribosomalNames.includes(c[0]) ? 1 : 2.2}
              />
            ))}
          </g>
        );
      })}
      <g filter="url(#labelShadow)" fontFamily="'Liberation Sans', Arial, sans-serif" fontWeight="bold" fill="#fff" textAnchor="middle">
        {groupCells.flat().map((c, i) => {
          const rows = c[0].split("\n");
          const px = labelPx(c[1]);
          return rows.map((row, j) => (
            <text
              key={`${i}-${j}`}
              x={tx(c[2], c[3])}
              y={ty(c[2], c[4]) + (j - (rows.length - 1) / 2) * px * 1.15}
              dominantBaseline="central"
              fontSize={px}
            >
              {row}
            </text>
          ));
        })}
      </g>
      <g fontFamily="'Liberation Sans', Arial, sans-serif" fontWeight="bold" fill="#ffe9c8" textAnchor="middle">
        {groupTitles.map(([rows, tile, cx, base, step, px, alpha], i) =>
          rows.map((row, j) => (
            <text key={`${i}-${j}`} x={tx(tile, cx)} y={ty(tile, base + j * step)} fontSize={px} fillOpacity={alpha}>
              {row}
            </text>
          ))
        )}
      </g>
    </g>
  </g>
);

export default function App() {
  return (
    <svg width={width} height={height} viewBox={`0 0 ${width} ${height}`} style={{ position: "absolute", left: 0, top: 0, background: "#fff" }}>
      <defs>
        <filter id="nodeShadow" x="-40%" y="-40%" width="200%" height="200%">
          <feDropShadow dx={9} dy={9} stdDeviation={9} floodColor="#000" floodOpacity={0.3} />
        </filter>
        <linearGradient id="nodeSheen" x1="0" y1="0" x2="1" y2="1">
          <stop offset="0" stopColor="#fff" stopOpacity={0.14} />
          <stop offset="0.6" stopColor="#fff" stopOpacity={0} />
        </linearGradient>
        <filter id="soften" x="0" y="0" width="100%" height="100%">
          <feGaussianBlur stdDeviation={1} />
        </filter>
        <filter id="labelShadow" x="0" y="0" width="100%" height="100%">
          <feDropShadow dx={1.2} dy={1.5} stdDeviation={0.8} floodColor="#444" floodOpacity={0.75} />
        </filter>
      </defs>
      <text x={14} y={94} fontFamily="'Open Sans', sans-serif" fontSize={66} fill="#1a1a1a">(a)</text>
      <text x={1783} y={94} fontFamily="'Open Sans', sans-serif" fontSize={66} fill="#1a1a1a">(b)</text>
      <NetworkPanel />
      <TreemapPanel />
    </svg>
  );
}
